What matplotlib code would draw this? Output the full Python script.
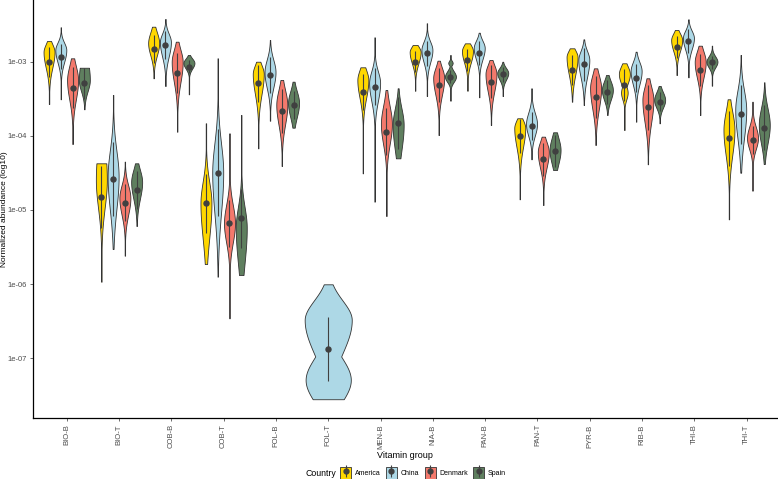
import numpy as np
import matplotlib
matplotlib.use("Agg")
import matplotlib.pyplot as plt
from matplotlib.patches import Patch
from matplotlib.lines import Line2D
from matplotlib.legend_handler import HandlerTuple

plt.rcParams['font.family'] = ['Liberation Sans', 'DejaVu Sans']

categories = ['BIO-B', 'BIO-T', 'COB-B', 'COB-T', 'FOL-B', 'FOL-T', 'MEN-B',
              'NIA-B', 'PAN-B', 'PAN-T', 'PYR-B', 'RIB-B', 'THI-B', 'THI-T']
countries = ['America', 'China', 'Denmark', 'Spain']
colors = ['#FFD700', '#ADD8E6', '#F3796C', '#5F7F5F']
nan = np.nan

# all values are log10(normalized abundance); columns follow `countries`
top = [[-2.724, -2.539, -2.957, -3.084],
       [-4.372, -3.451, -4.350, -4.372],
       [-2.531, -2.427, -2.733, -2.912],
       [-3.833, -2.957, -3.968, -3.721],
       [-3.003, -2.710, -3.249, -3.272],
       [nan, -6.003, nan, nan],
       [-3.078, -2.674, -3.384, -3.361],
       [-2.778, -2.485, -2.989, -2.912],
       [-2.755, -2.612, -2.980, -3.003],
       [-3.765, -3.361, -4.013, -3.954],
       [-2.822, -2.701, -3.092, -3.182],
       [-3.024, -2.868, -3.226, -3.330],
       [-2.575, -2.431, -2.787, -2.787],
       [-3.509, -2.912, -3.542, -3.280]]

bottom = [[-3.573, -3.509, -4.112, -3.644],
          [-5.968, -5.527, -5.617, -5.217],
          [-3.226, -3.330, -3.946, -3.442],
          [-5.729, -5.900, -6.461, -5.877],
          [-4.170, -3.798, -4.408, -3.892],
          [nan, -7.552, nan, nan],
          [-4.507, -4.889, -5.082, -4.305],
          [-3.394, -3.465, -3.991, -3.528],
          [-3.394, -3.482, -3.856, -3.465],
          [-4.857, -4.318, -4.934, -4.462],
          [-3.542, -3.586, -4.125, -3.721],
          [-3.923, -3.811, -4.385, -3.833],
          [-3.182, -3.213, -3.721, -3.326],
          [-5.127, -4.499, -4.741, -4.381]]

median = [[-3.003, -2.935, -3.353, -3.294],
          [-4.830, -4.584, -4.903, -4.732],
          [-2.836, -2.778, -3.151, -3.070],
          [-4.911, -4.499, -5.181, -5.113],
          [-3.294, -3.182, -3.667, -3.586],
          [nan, -6.875, nan, nan],
          [-3.415, -3.340, -3.946, -3.833],
          [-3.003, -2.889, -3.317, -3.205],
          [-2.980, -2.881, -3.272, -3.173],
          [-4.004, -3.869, -4.318, -4.206],
          [-3.115, -3.038, -3.482, -3.407],
          [-3.317, -3.218, -3.617, -3.542],
          [-2.809, -2.724, -3.115, -3.011],
          [-4.035, -3.712, -4.058, -3.892]]

# densest point of each violin
mode = [[-2.872, -2.845, -3.249, -3.249],
        [-4.597, -4.553, -4.840, -4.624],
        [-2.751, -2.737, -3.007, -3.020],
        [-4.911, -4.499, -5.181, -5.244],
        [-3.168, -3.142, -3.586, -3.559],
        [nan, -6.484, nan, nan],
        [-3.249, -3.290, -3.842, -3.856],
        [-2.872, -2.845, -3.222, -3.205],
        [-2.858, -2.818, -3.168, -3.155],
        [-3.896, -3.842, -4.220, -4.193],
        [-2.939, -2.980, -3.357, -3.384],
        [-3.168, -3.128, -3.519, -3.519],
        [-2.710, -2.683, -3.007, -3.003],
        [-3.923, -3.654, -4.031, -3.856]]

# where the bulk of the violin thins out, above and below
body_hi = [[-2.683, -2.666, -2.912, -2.750],
           [-3.700, -3.923, -4.530, -4.330],
           [-2.495, -2.535, -2.710, -2.912],
           [-4.395, -3.788, -4.732, -4.732],
           [-2.953, -2.845, -3.222, -3.276],
           [nan, -6.009, nan, nan],
           [-3.007, -3.007, -3.411, -3.451],
           [-2.737, -2.643, -2.980, -3.074],
           [-2.710, -2.643, -2.953, -3.034],
           [-3.708, -3.573, -3.977, -3.896],
           [-2.778, -2.764, -3.047, -3.168],
           [-2.980, -2.912, -3.195, -3.330],
           [-2.548, -2.508, -2.751, -2.872],
           [-3.478, -3.182, -3.761, -3.451]]

body_lo = [[-3.249, -3.140, -3.721, -3.519],
           [-5.271, -5.338, -5.244, -5.028],
           [-3.047, -3.088, -3.492, -3.155],
           [-5.750, -5.473, -5.648, -6.100],
           [-3.654, -3.519, -4.058, -3.900],
           [nan, -7.294, nan, nan],
           [-3.681, -3.721, -4.327, -4.462],
           [-3.142, -3.142, -3.627, -3.330],
           [-3.142, -3.088, -3.586, -3.317],
           [-4.354, -4.125, -4.597, -4.530],
           [-3.357, -3.384, -3.856, -3.627],
           [-3.400, -3.451, -4.058, -3.708],
           [-2.980, -2.953, -3.384, -3.142],
           [-4.530, -4.327, -4.301, -4.301]]

# half-length of the summary line around the median
spread = [[0.20, 0.17, 0.28, 0.21],
          [0.42, 0.50, 0.25, 0.25],
          [0.19, 0.19, 0.27, 0.09],
          [0.40, 0.59, 0.32, 0.40],
          [0.25, 0.24, 0.29, 0.19],
          [nan, 0.43, nan, nan],
          [0.24, 0.25, 0.32, 0.35],
          [0.14, 0.17, 0.23, 0.09],
          [0.15, 0.16, 0.22, 0.10],
          [0.23, 0.19, 0.22, 0.22],
          [0.20, 0.22, 0.28, 0.16],
          [0.21, 0.19, 0.30, 0.13],
          [0.15, 0.16, 0.22, 0.09],
          [0.37, 0.40, 0.19, 0.30]]

# secondary modes: (category, country, centre, relative height, sd)
extra_modes = [(5, 1, -7.292, 0.96, 0.30),
               (7, 3, -3.020, 0.40, 0.03),
               (11, 0, -3.420, 0.60, 0.09)]

ytick_vals = [1e-7, 1e-6, 1e-5, 1e-4, 1e-3]
ytick_labels = ['1e-07', '1e-06', '1e-05', '1e-04', '1e-03']


def violin_profile(i, j):
    c = np.linspace(bottom[i][j], top[i][j], 300)
    pk = mode[i][j]
    s_up = (body_hi[i][j] - pk) / 1.8
    s_dn = (pk - body_lo[i][j]) / 1.8
    s = np.where(c >= pk, s_up, s_dn)
    w = np.exp(-0.5 * ((c - pk) / s) ** 2)
    for ci, cj, centre, amp, sd in extra_modes:
        if ci == i and cj == j:
            w = np.maximum(w, amp * np.exp(-0.5 * ((c - centre) / sd) ** 2))
    w = np.maximum(w, 0.04)
    return c, w / w.max()


fig = plt.figure(figsize=(7.78, 4.79), dpi=100)
ax = fig.add_axes([32.7 / 778, 61 / 479, (778 - 32.7) / 778, 418 / 479])
ax.set_yscale('log')

offsets = [-0.3375, -0.1125, 0.1125, 0.3375]
stats, positions, widths, fills = [], [], [], []
for i, cat in enumerate(categories):
    present = [j for j in range(len(countries)) if not np.isnan(top[i][j])]
    for j in present:
        c, w = violin_profile(i, j)
        stats.append({'coords': 10 ** c, 'vals': w, 'mean': 10 ** median[i][j],
                      'median': 10 ** median[i][j], 'min': 10 ** bottom[i][j],
                      'max': 10 ** top[i][j]})
        if len(present) == 1:
            positions.append(i)
            widths.append(0.9)
        else:
            positions.append(i + offsets[j])
            widths.append(0.21)
        fills.append(colors[j])

parts = ax.violin(stats, positions=positions, widths=widths,
                  showmeans=False, showextrema=False, showmedians=False)
for body, col in zip(parts['bodies'], fills):
    body.set_facecolor(col)
    body.set_edgecolor('#333333')
    body.set_linewidth(0.6)
    body.set_alpha(1)

# summary line + median point
k = 0
for i in range(len(categories)):
    for j in range(len(countries)):
        if np.isnan(top[i][j]):
            continue
        x = positions[k]
        k += 1
        y0 = max(median[i][j] - spread[i][j], bottom[i][j])
        y1 = min(median[i][j] + spread[i][j], top[i][j])
        ax.vlines(x, 10 ** y0, 10 ** y1, color='#404040', lw=0.8, zorder=3)
        ax.plot(x, 10 ** median[i][j], 'o', color='#404040', ms=3.6, zorder=4)

ax.set_xlim(-0.65, 13.6)
ax.set_ylim(10 ** -7.805, 10 ** -2.171)
ax.set_xticks(range(len(categories)))
ax.set_xticklabels(categories, rotation=90, fontsize=5.5, color='#4D4D4D')
ax.set_yticks(ytick_vals)
ax.set_yticklabels(ytick_labels, fontsize=5.5, color='#4D4D4D')
ax.yaxis.set_minor_locator(matplotlib.ticker.NullLocator())
ax.tick_params(length=2.5, width=0.5, color='#333333', pad=2)
for side in ['top', 'right']:
    ax.spines[side].set_visible(False)
for side in ['left', 'bottom']:
    ax.spines[side].set_linewidth(0.9)
    ax.spines[side].set_color('black')

ax.set_xlabel('Vitamin group', fontsize=6.5)
ax.xaxis.set_label_coords(0.5, -0.079)
ax.set_ylabel('Normalized abundance (log10)', fontsize=6)
ax.yaxis.set_label_coords(-0.0335, 0.5)

handles = []
for col in colors:
    handles.append((Patch(facecolor=col, edgecolor='#333333', linewidth=0.6),
                    Line2D([], [], color='#404040', marker='|', ms=9, mew=0.8, ls='none'),
                    Line2D([], [], color='#404040', marker='o', ms=3.5, ls='none')))
fig.text(305 / 778, 1 - 473 / 479, 'Country', fontsize=6.3, ha='left', va='center')
fig.legend(handles, countries, handler_map={tuple: HandlerTuple(ndivide=1)},
           loc='center', bbox_to_anchor=(423 / 778, 1 - 473 / 479), ncol=4,
           frameon=False, fontsize=5, numpoints=1, handlelength=1.6,
           handleheight=2.2, handletextpad=0.5, columnspacing=0.8, borderpad=0)

fig.savefig('out.png', dpi=100)
